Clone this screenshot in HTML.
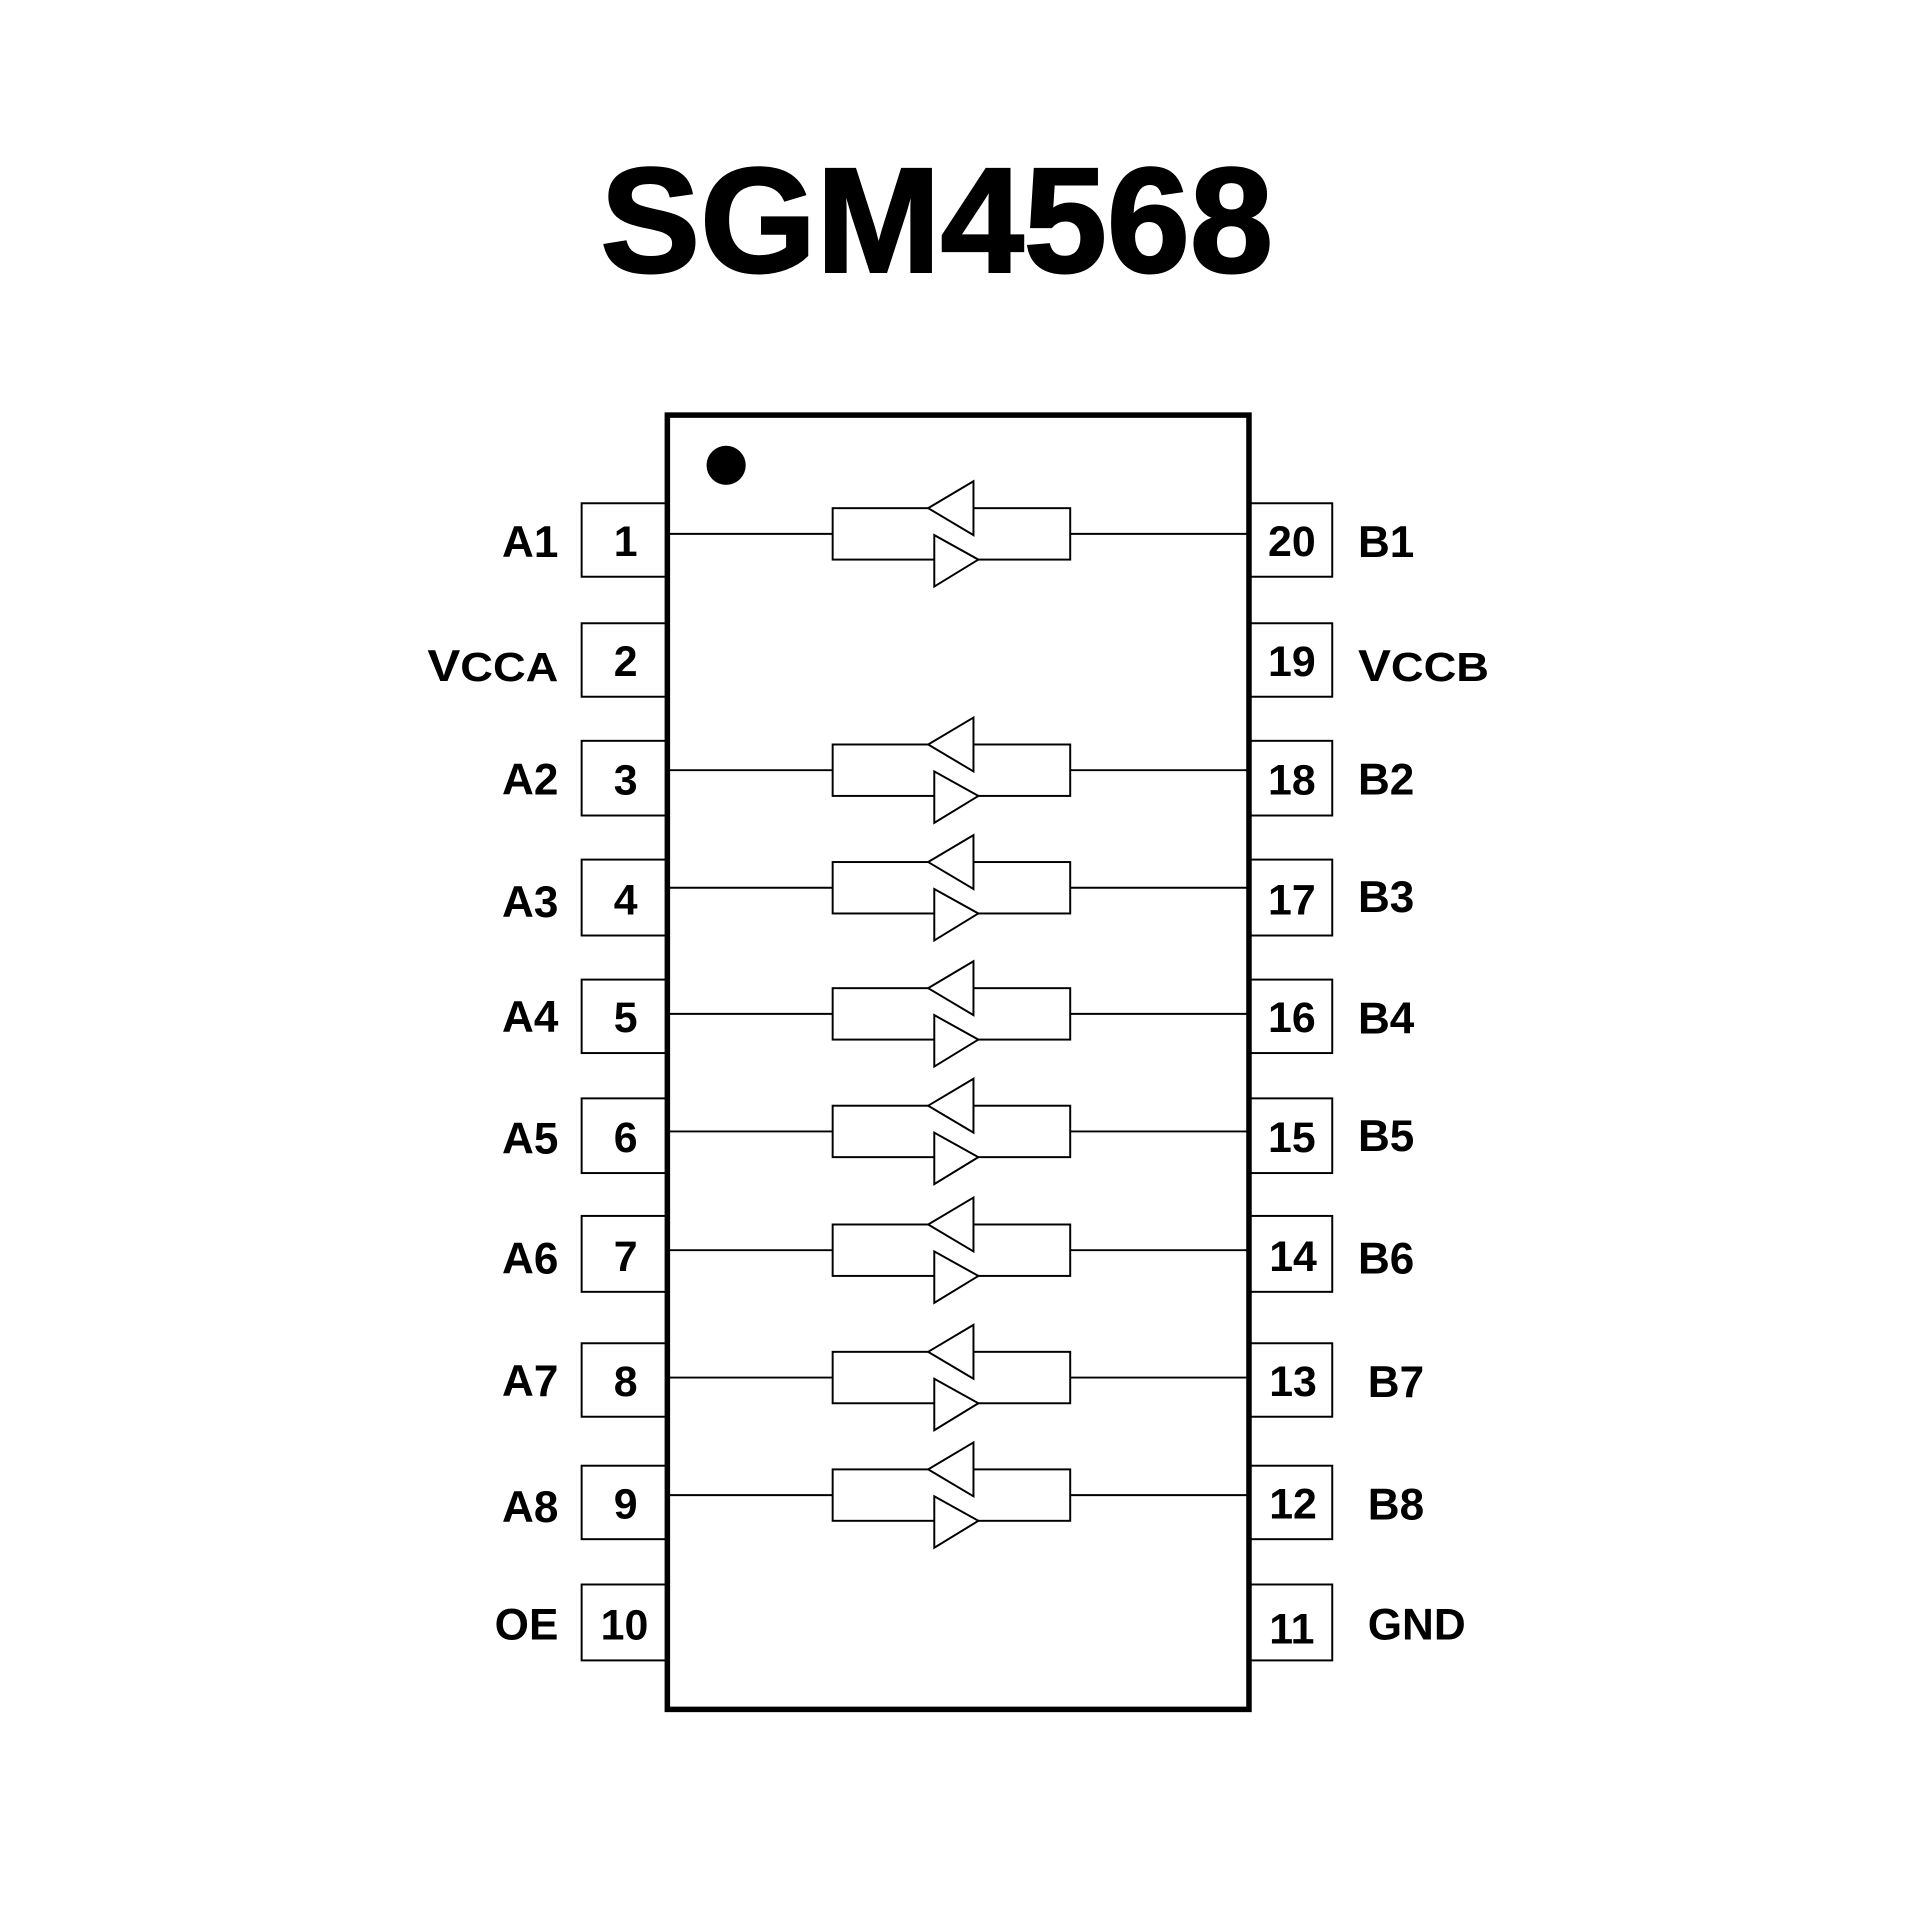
<!DOCTYPE html>
<html><head><style>html,body{margin:0;padding:0;background:#fff}svg{display:block}</style></head>
<body>
<svg width="1920" height="1920" viewBox="0 0 1568 1568" xmlns="http://www.w3.org/2000/svg" font-family="Liberation Sans, Arial, sans-serif" font-weight="bold">
<rect width="1568" height="1568" fill="#fff"/>
<text x="765" y="222" font-size="122" text-anchor="middle" fill="#000" stroke="#000" stroke-width="2">SGM4568</text>
<rect x="545" y="339" width="475" height="1057" fill="none" stroke="#000" stroke-width="4.5"/>
<circle cx="593" cy="380" r="16" fill="#000"/>
<g fill="none" stroke="#000" stroke-width="1.6">
<rect x="475" y="411" width="70" height="60"/><rect x="475" y="509" width="70" height="60"/>
<rect x="475" y="605" width="70" height="61"/><rect x="475" y="702" width="70" height="62"/>
<rect x="475" y="800" width="70" height="60"/><rect x="475" y="897" width="70" height="61"/>
<rect x="475" y="993" width="70" height="62"/><rect x="475" y="1097" width="70" height="60"/>
<rect x="475" y="1197" width="70" height="60"/><rect x="475" y="1294" width="70" height="62"/>
<rect x="1020" y="411" width="68" height="60"/><rect x="1020" y="509" width="68" height="60"/>
<rect x="1020" y="605" width="68" height="61"/><rect x="1020" y="702" width="68" height="62"/>
<rect x="1020" y="800" width="68" height="60"/><rect x="1020" y="897" width="68" height="61"/>
<rect x="1020" y="993" width="68" height="62"/><rect x="1020" y="1097" width="68" height="60"/>
<rect x="1020" y="1197" width="68" height="60"/><rect x="1020" y="1294" width="68" height="62"/>
</g>
<defs>
<g id="buf" fill="none" stroke="#000" stroke-width="1.6">
<line x1="545" y1="0" x2="680" y2="0"/>
<rect x="680" y="-21" width="194" height="42" fill="none"/>
<line x1="874" y1="0" x2="1020" y2="0"/>
<polygon points="795,-43 795,1 758,-21" fill="#fff"/>
<polygon points="763,1 763,43 799,21" fill="#fff"/>
</g>
</defs>
<use href="#buf" y="436"/><use href="#buf" y="629"/><use href="#buf" y="725"/>
<use href="#buf" y="828"/><use href="#buf" y="924"/><use href="#buf" y="1021"/>
<use href="#buf" y="1125"/><use href="#buf" y="1221"/>
<g font-size="35" fill="#000" text-anchor="middle">
<text x="511" y="454">1</text><text x="511" y="552">2</text><text x="511" y="649">3</text>
<text x="511" y="747">4</text><text x="511" y="843">5</text><text x="511" y="941">6</text>
<text x="511" y="1038">7</text><text x="511" y="1140">8</text><text x="511" y="1240">9</text>
<text x="510" y="1339">10</text>
<text x="1055" y="454">20</text><text x="1055" y="552">19</text><text x="1055" y="649">18</text>
<text x="1055" y="747">17</text><text x="1055" y="843">16</text><text x="1055" y="941">15</text>
<text x="1056" y="1038">14</text><text x="1056" y="1140">13</text><text x="1056" y="1240">12</text>
<text x="1055" y="1342">11</text>
</g>
<g font-size="36" fill="#000" text-anchor="end">
<text x="456" y="455">A1</text>
<text x="456" y="556" textLength="107" lengthAdjust="spacingAndGlyphs">V<tspan font-size="33">CCA</tspan></text>
<text x="456" y="649">A2</text><text x="456" y="749">A3</text><text x="456" y="843">A4</text>
<text x="456" y="942">A5</text><text x="456" y="1040">A6</text><text x="456" y="1140">A7</text>
<text x="456" y="1243">A8</text><text x="456" y="1339">OE</text>
</g>
<g font-size="36" fill="#000">
<text x="1109" y="455">B1</text>
<text x="1109" y="556" textLength="107" lengthAdjust="spacingAndGlyphs">V<tspan font-size="33">CCB</tspan></text>
<text x="1109" y="649">B2</text><text x="1109" y="745">B3</text><text x="1109" y="844">B4</text>
<text x="1109" y="940">B5</text><text x="1109" y="1040">B6</text><text x="1117" y="1141">B7</text>
<text x="1117" y="1241">B8</text><text x="1117" y="1339">GND</text>
</g>
</svg>
</body></html>
